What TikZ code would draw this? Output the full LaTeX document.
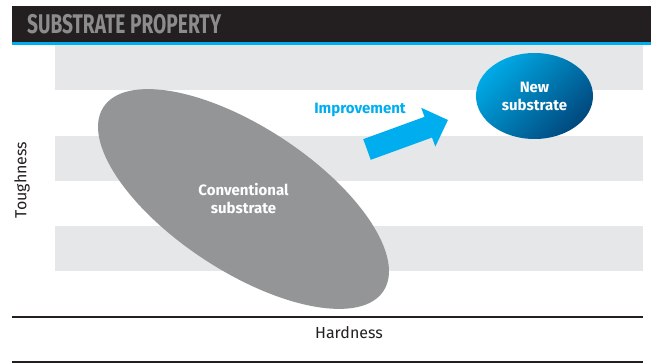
\documentclass[tikz,border=0pt]{standalone}
\usepackage{fontspec}
\setmainfont{Fira Sans}
\usetikzlibrary{positioning,arrows.meta,shapes.geometric}
\tikzstyle{chart} = [x = 1pt, y = -1pt]
\definecolor{barColor}{RGB}{35,31,32}
\definecolor{accentBlue}{RGB}{0,174,239}
\definecolor{bandColor}{RGB}{230,231,232}
\definecolor{blobGrey}{RGB}{147,149,151}
\definecolor{titleGrey}{RGB}{140,140,140}
\definecolor{newLight}{RGB}{0,170,230}
\definecolor{newDark}{RGB}{0,72,125}
\tikzstyle{bandStyle} = [fill=bandColor]
\tikzstyle{axisLine} = [draw=barColor, line width=1.6pt]
\tikzstyle{axisText} = [font=\fontsize{16}{18}\selectfont, text=barColor, inner sep=0pt]
\tikzstyle{blobText} = [font=\bfseries\fontsize{15}{18}\selectfont, text=white, align=center, inner sep=0pt]
\tikzstyle{newBlob} = [ellipse, minimum width=117pt, minimum height=86pt, shading=axis, top color=newLight, bottom color=newDark, shading angle=45]
\tikzstyle{pushArrow} = [draw=accentBlue, line width=22pt, -{Triangle[length=21pt, width=40pt]}]
\newcommand{\greyBand}[1]{\fill [bandStyle] (55, #1) rectangle + (588, 45.3);}

\begin{document}
\begin{tikzpicture}[chart]
  \useasboundingbox (0,0) rectangle (651,363);

  % header bar
  \fill [barColor] (12,6) rectangle (651,42);
  \fill [accentBlue] (12,42) rectangle (651,45);
  \node [anchor=west, inner sep=0pt, xscale=.71, text=titleGrey, font=\bfseries\fontsize{27}{29}\selectfont] (title) at (27,24) {SUBSTRATE PROPERTY};

  % background bands
  \foreach \band in {0,2,4} {
    \pgfmathsetmacro{\bandTop}{45 + 45.3 * \band}
    \greyBand{\bandTop}
  }

  % axes
  \draw [axisLine] (12,317) -- (643,317);
  \draw [axisLine] (12,362) -- (643,362);
  \node [axisText] (hardness) at (349,333) {Hardness};
  \node [axisText, rotate=90] (toughness) at (22,180) {Toughness};

  % conventional substrate
  \fill [blobGrey, rotate around={-33.3:(243.5,199)}] (243.5,199) ellipse [x radius=167.5, y radius=72];
  \node [blobText] (conventional) at (243.5,199) {Conventional\\substrate};

  % new substrate
  \node [newBlob, text=white, font=\bfseries\fontsize{15}{18}\selectfont, align=center] (newSubstrate) at (534.5,96) {New\\substrate};

  % improvement
  \coordinate (arrowTail) at (367,149.5);
  \coordinate (arrowTip) at (448,120);
  \draw [pushArrow] (arrowTail) -- (arrowTip);
  \node [font=\bfseries\fontsize{15}{17}\selectfont, text=accentBlue, inner sep=0pt] (improvement) at (360,110) {Improvement};
\end{tikzpicture}
\end{document}
